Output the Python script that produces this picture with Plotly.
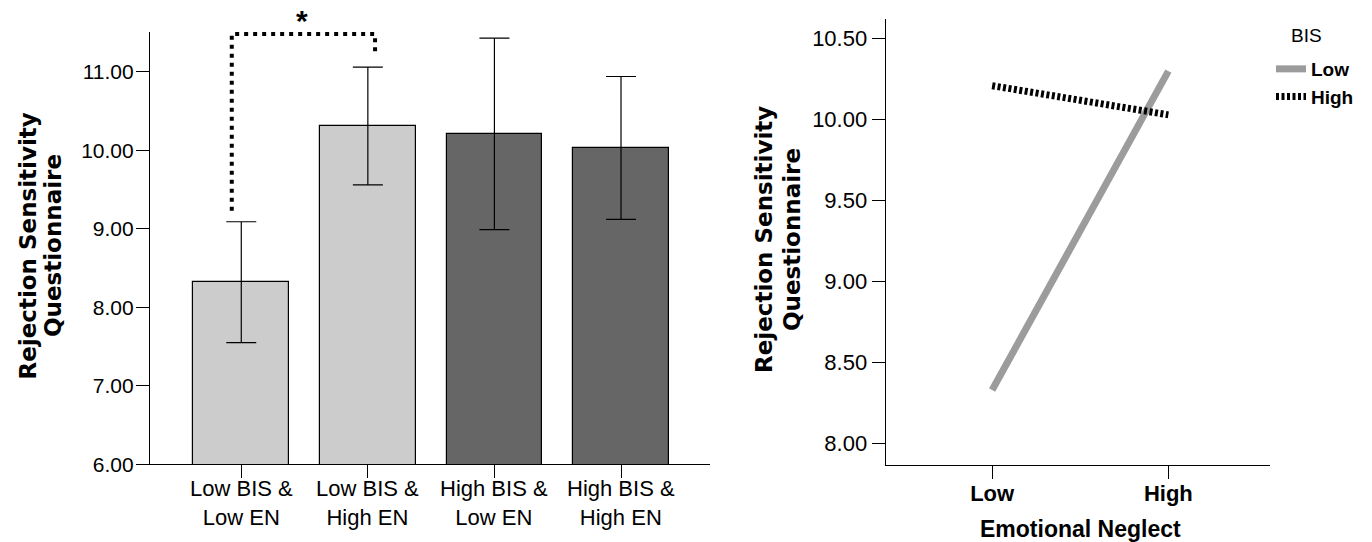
import plotly.graph_objects as go

# ---------------- data ----------------
group_line1 = ["Low BIS &", "Low BIS &", "High BIS &", "High BIS &"]
group_line2 = ["Low EN", "High EN", "Low EN", "High EN"]
means = [8.32, 10.31, 10.21, 10.03]
ci_upper = [9.09, 11.06, 11.43, 10.94]
ci_lower = [7.55, 9.56, 8.99, 9.12]
bar_colors = ["#cccccc", "#cccccc", "#666666", "#666666"]

en_levels = ["Low", "High"]
bis_low = [8.33, 10.30]
bis_high = [10.21, 10.03]
legend_title = "BIS"

FONT = "Liberation Sans, Arial, sans-serif"
TITLE_FONT = "DejaVu Sans, Arial, sans-serif"
W, H = 1372, 542

def px_x(p):
    return p / W

def px_y(p):
    return (H - p) / H

fig = go.Figure()

xpos = list(range(len(means)))
fig.add_trace(go.Bar(
    x=xpos, y=means, width=0.756,
    marker=dict(color=bar_colors, line=dict(color="black", width=1.2)),
    error_y=dict(type="data", symmetric=False,
                 array=[u - m for u, m in zip(ci_upper, means)],
                 arrayminus=[m - l for m, l in zip(means, ci_lower)],
                 color="black", thickness=1.2, width=15),
    showlegend=False, xaxis="x", yaxis="y",
))

fig.add_trace(go.Scatter(
    x=[0, 1], y=bis_low, mode="lines", name="Low",
    line=dict(color="#9c9c9c", width=7), xaxis="x2", yaxis="y2",
))
fig.add_trace(go.Scatter(
    x=[0, 1], y=bis_high, mode="lines", name="High",
    line=dict(color="black", width=7, dash="3px,2.5px"), xaxis="x2", yaxis="y2",
))

axis_common = dict(showline=True, linecolor="black", linewidth=1.2, ticks="outside",
                   tickcolor="black", ticklen=13, tickwidth=1.2, showgrid=False,
                   zeroline=False, mirror=False, automargin=False)

fig.update_layout(
    width=W, height=H,
    margin=dict(l=0, r=0, t=0, b=0, autoexpand=False),
    paper_bgcolor="white", plot_bgcolor="white",
    font=dict(family=FONT, color="black"),
    xaxis=dict(domain=[px_x(150), px_x(710)], range=[-0.721, 3.703],
               tickvals=xpos, showticklabels=False, anchor="y", **axis_common),
    yaxis=dict(domain=[px_y(464.3), px_y(32)], range=[6, 11.507],
               tickvals=[6, 7, 8, 9, 10, 11], tickformat=".2f", ticklabelstandoff=-2,
               tickfont=dict(size=21, family=FONT), anchor="x", **axis_common),
    xaxis2=dict(domain=[px_x(885.7), px_x(1270)], range=[-0.604, 1.577],
                tickvals=[0, 1], ticktext=en_levels, ticklabelstandoff=-5,
                tickfont=dict(size=22, family=FONT, weight="bold"), anchor="y2", **axis_common),
    yaxis2=dict(domain=[px_y(465), px_y(19)], range=[7.867, 10.622],
                tickvals=[8.0, 8.5, 9.0, 9.5, 10.0, 10.5], tickformat=".2f",
                tickfont=dict(size=22, family=FONT), anchor="x2", **axis_common),
    legend=dict(x=px_x(1271), y=px_y(50), xanchor="left", yanchor="top",
                bgcolor="rgba(0,0,0,0)", itemwidth=30,
                font=dict(size=19, family=FONT, weight="bold"), tracegroupgap=0),
    bargap=0,
)

# legend title
fig.add_annotation(x=px_x(1306), y=px_y(35), xref="paper", yref="paper",
                   text=legend_title, showarrow=False,
                   font=dict(size=19, family=FONT), xanchor="center", yanchor="middle")

# category labels (two lines each)
for i, (l1, l2) in enumerate(zip(group_line1, group_line2)):
    fig.add_annotation(x=i, y=px_y(502.5), xref="x", yref="paper", text=f"{l1}<br>{l2}",
                       showarrow=False, font=dict(size=22, family=FONT),
                       xanchor="center", yanchor="middle")

# y-axis titles
for xc1, xc2, yc in [(27.5, 53, 246), (764, 792, 240)]:
    fig.add_annotation(x=px_x(xc1), y=px_y(yc), xref="paper", yref="paper",
                       text="Rejection Sensitivity", textangle=-90, showarrow=False,
                       font=dict(size=23, family=TITLE_FONT, weight="bold"),
                       xanchor="center", yanchor="middle")
    fig.add_annotation(x=px_x(xc2), y=px_y(yc), xref="paper", yref="paper",
                       text="Questionnaire", textangle=-90, showarrow=False,
                       font=dict(size=23, family=TITLE_FONT, weight="bold"),
                       xanchor="center", yanchor="middle")

# x-axis title right
fig.add_annotation(x=px_x(1080), y=px_y(528.5), xref="paper", yref="paper",
                   text="Emotional Neglect", showarrow=False,
                   font=dict(size=23, family=FONT, weight="bold"),
                   xanchor="center", yanchor="middle")

# significance bracket
bx0, bx1 = 0 - 0.075, 1 + 0.057
by0, by1 = ci_upper[0] + 0.14, ci_upper[1] + 0.18
btop = 11.48
fig.add_shape(type="path", xref="x", yref="y",
              path=f"M {bx0},{by0} L {bx0},{btop} L {bx1},{btop} L {bx1},{by1}",
              line=dict(color="black", width=4, dash="4px,5px"))
fig.add_annotation(x=0.478, y=px_y(20), xref="x", yref="paper", text="*", showarrow=False,
                   font=dict(size=30, family=FONT, weight="bold"),
                   xanchor="center", yanchor="middle")

fig.write_html("out.html", config={"displayModeBar": False},
               post_script="document.body.style.margin='0';")
